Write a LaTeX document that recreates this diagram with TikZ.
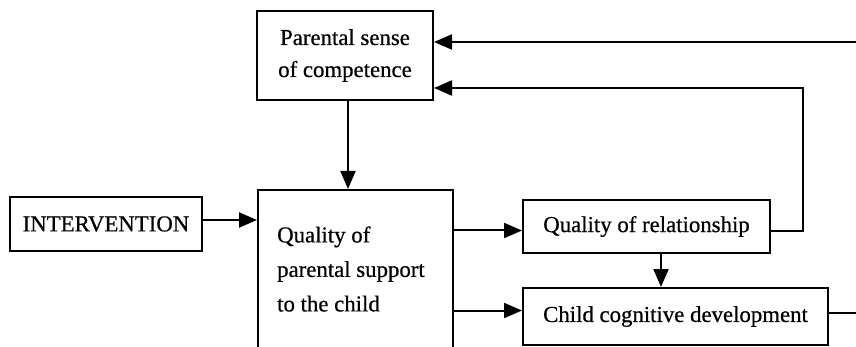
\documentclass[tikz,border=0pt]{standalone}
\usepackage{fontspec}
\setmainfont{Liberation Serif}[FakeBold=0.6]
\usetikzlibrary{arrows.meta,calc}
\begin{document}
\begin{tikzpicture}[x=1pt,y=-1pt,
  box/.style={draw,line width=2pt,rectangle,inner sep=0pt,font=\fontsize{22.8}{32}\selectfont},
  conn/.style={line width=2pt},
  arr/.style={conn,-{Triangle[length=18pt,width=15pt]}}]
\useasboundingbox (0,0) rectangle (856,347);
\node[box,minimum width=176pt,minimum height=89pt,align=center] (psc) at (345,55.5) {Parental sense\\of competence};
\node[box,minimum width=192pt,minimum height=54pt] (interv) at (106,224) {INTERVENTION};
\node[box,minimum width=195pt,minimum height=180pt] (qual) at (355.5,280) {};
\node[anchor=west,align=left,inner sep=0pt,font=\fontsize{22.8}{34.5}\selectfont] (qualtext) at (277,269) {Quality of\\parental support\\to the child};
\node[box,minimum width=247pt,minimum height=53pt] (rel) at (646.5,226.5) {Quality of relationship};
\node[box,minimum width=305pt,minimum height=57pt] (child) at (675.5,316.5) {Child cognitive development};
\coordinate (m) at ($(rel.south)!.5!(child.north)$);
\coordinate (fb1) at (803,88);
\coordinate (topin) at (860,42);
\coordinate (out) at (860,312);
\draw[arr] ([xshift=3pt]psc.south) -- ([xshift=3pt]psc.south |- qual.north);
\draw[arr] ([yshift=4pt]interv.east) -- ([yshift=4pt]qual.west |- interv.east);
\draw[arr] ([yshift=-4pt]qual.east |- rel.west) -- ([yshift=-4pt]rel.west);
\draw[arr] ([yshift=6pt]qual.east |- child.west) -- ([yshift=6pt]child.west);
\draw[arr] (m |- rel.south) -- (m |- child.north);
\draw[arr] ([yshift=-5pt]rel.east) -| (fb1) -- (fb1 -| psc.east);
\draw[arr] (topin) -- (topin -| psc.east);
\draw[conn] ([yshift=4pt]child.east) -- ([yshift=4pt]out |- child.east);
\end{tikzpicture}
\end{document}
